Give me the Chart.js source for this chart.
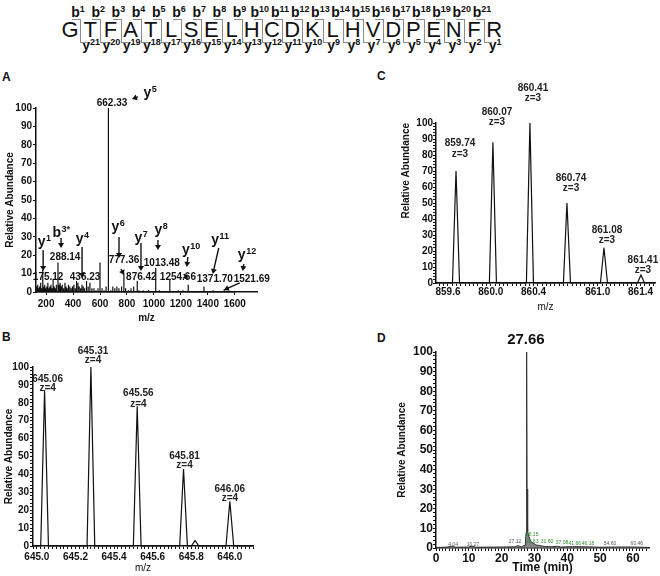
<!DOCTYPE html>
<html><head><meta charset="utf-8">
<script src="https://cdn.jsdelivr.net/npm/chart.js@4.4.0/dist/chart.umd.min.js"></script>
<style>
html,body{margin:0;padding:0;background:#fff;}
body{width:660px;height:576px;position:relative;overflow:hidden;font-family:"Liberation Sans",Arial,Helvetica,sans-serif;}
canvas{position:absolute;}
.abs{position:absolute;white-space:nowrap;}
.res{font-size:22px;line-height:22px;color:#111;transform:translateX(-50%);}
.ion{font-size:14px;font-weight:bold;line-height:14px;color:#111;transform:translateX(-50%);}
.ion sup{font-size:9px;line-height:0;position:relative;top:-5px;vertical-align:baseline;}
.ln{position:absolute;border:0 solid #8c8c8c;}
.panel{font-size:12px;font-weight:bold;line-height:12px;color:#111;}
</style></head><body>
<div id="seq"></div>
<div class="abs panel" style="left:2px;top:71px">A</div>
<div class="abs panel" style="left:2px;top:331px">B</div>
<div class="abs panel" style="left:377px;top:70px">C</div>
<div class="abs panel" style="left:377px;top:332px">D</div>
<canvas id="cA" width="330" height="270" style="left:0;top:60px"></canvas>
<canvas id="cB" width="330" height="256" style="left:0;top:320px"></canvas>
<canvas id="cC" width="330" height="260" style="left:330px;top:60px"></canvas>
<canvas id="cD" width="330" height="256" style="left:330px;top:320px"></canvas>
<script>
// ---------------- DATA ----------------
const peptide = ['G','T','F','A','T','L','S','E','L','H','C','D','K','L','H','V','D','P','E','N','F','R'];

// Panel A: MS/MS stick spectrum (m/z, relative abundance)
const msmsMz  = [130,138,145,152,160,168,175.12,182,190,198,205,213,220,228,236,244,252,260,268,276,288.14,296,304,312,320,330,340,348,356,366,376,386,396,406,416,426,436.23,446,456,466,476,486,500,512,525,540,555,570,585,600,615,630,645,662.33,680,695,710,725,740,760,777.36,790,810,830,850,876.42,890,920,960,1013.48,1040,1118,1180,1215,1254.66,1300,1371.70,1440,1521.69,1600];
const msmsInt = [3,4,2,3,5,2,12,3,4,2,3,5,2,3,4,2,7,3,2,4,16,4,5,3,4,2,5,3,2,4,3,2,3,4,2,6,5,3,2,4,3,2,6,3,5,2,2,1,2,16,2,1,3,100,1,3,2,3,2,3,10,2,1,2,3,6,1,1,1,13,1,7,1,1,4,0.5,3,1,1.5,0.5];
const aXTickLabels = [200,400,600,800,1000,1200,1400,1600];
const aYTickLabels = [0,10,20,30,40,50,60,70,80,90,100];
// annotations (data coordinates)
const aMassLabels = [['662.33',689,102.7],['288.14',341,19],['175.12',215,8.2],['436.23',489,8.2],['777.36',778,17.4],['876.42',907,8.2],['1013.48',1059,15.8],['1254.66',1178,8.2],['1371.70',1452,7.1],['1521.69',1726,7.1]];
const aIonLabels = [['y','5',970,107.1],['y','1',185,26.1],['b','3*',311,32.6],['y','4',467,27.7],['y','6',733,34.2],['y','7',904,28.3],['y','8',1052,32.6],['y','10',1274,21.7],['y','11',1489,27.2],['y','12',1689,19]];
const aArrows = [[178,22.8,178,11.4],[311,29.3,311,23.9],[467,24.5,467,7.6],[741,29.9,741,18.5],[904,26.6,904,11.4],[1030,28.3,1030,22.8],[1252,19,1244,13.6],[1481,23.9,1437,9.8],[1667,15.2,1659,11.4],[1637,4.9,1519,1.1],[756,12.5,778,9.2],[1222,9.8,1252,6.5],[881,106,837,104.9]];

// Panel B: isotope cluster z=4
const bPeakMz  = [645.04,645.28,645.52,645.76,645.82,646.00];
const bPeakInt = [87,100,78,43,3,25];
const bXTickLabels = ['645.0','645.2','645.4','645.6','645.8','646.0'];
const bPeakLabels = [['645.06',645.056,93.3,88.3],['645.31',645.291,108.9,103.9],['645.56',645.526,85.5,79.3],['645.81',645.765,50.3,45.3],['646.06',646.0,31.8,26.8]];

// Panel C: isotope cluster z=3
const cPeakMz  = [859.675,860.02,860.366,860.712,861.058,861.404];
const cPeakInt = [70,88,100,50,22,5];
const cXTickLabels = ['859.6','860.0','860.4','861.0','861.4'];
const cPeakLabels = [['859.74',859.712,87.5,80.6],['860.07',860.058,106.9,100.6],['860.41',860.394,121.9,115.6],['860.74',860.75,65.6,59.4],['861.08',861.086,33.1,26.9],['861.41',861.422,14.4,8.1]];

// Panel D: extracted ion chromatogram
const dTime  = [0,3,5,6,10,11,12,20,24,25,26,27.2,27.45,27.58,27.66,27.74,27.86,28.0,28.3,28.6,29,29.6,30.5,31.6,33,35,37,38,41.6,46.2,50,54.6,60.5,64.9];
const dAbund = [0.3,0.4,0.9,0.4,0.5,1.0,0.4,0.5,0.6,1.2,0.6,1.5,8,35,100,30,12,8,6,4.5,3,2.5,1.5,1.3,0.8,0.6,0.9,0.5,0.7,0.6,0.4,0.5,0.5,0.3];
const dXTickLabels = [0,10,20,30,40,50,60];
const dNoteText = ['4.04','10.27','27.12','28.15','28.63','31.60','37.08','41.66','46.18','54.60','60.46'];
const dNoteX    = [5.2,11.3,24.1,29.3,29.3,33.8,38.4,42.3,46.3,53.0,61.2];
const dNoteY    = [1.8,1.8,3.0,6.8,3.2,3.0,2.6,2.2,2.2,2.2,2.2];
const dApexLabel = ['27.66',27.4,106];

// ---------------- SEQUENCE (HTML text) ----------------
(function(){
  const root = document.getElementById('seq');
  const x0 = 70, dx = 20.2;
  let html = '';
  peptide.forEach((r,i)=>{ html += `<div class="abs res" style="left:${x0+i*dx}px;top:19px">${r}</div>`; });
  for (let n=1;n<=21;n++){ html += `<div class="abs ion" style="left:${x0+(n-1)*dx+8}px;top:5px">b<sup>${n}</sup></div>`; }
  for (let n=1;n<=21;n++){ html += `<div class="abs ion" style="left:${x0+(22-n)*dx+1}px;top:38px">y<sup>${n}</sup></div>`; }
  for (let k=0;k<21;k++){
    const bx = x0 + k*dx + dx/2;
    html += `<div class="ln" style="left:${bx-8}px;top:19px;width:8px;border-top-width:1px"></div>`;
    html += `<div class="ln" style="left:${bx}px;top:19px;height:23px;border-left-width:1px"></div>`;
    html += `<div class="ln" style="left:${bx}px;top:42px;width:8px;border-top-width:1px"></div>`;
  }
  root.innerHTML = html;
})();

// ---------------- HELPERS ----------------
const FF = '"Liberation Sans", Arial, Helvetica, sans-serif';
const INK = '#111';
function stickPoints(xs, hs){ const p=[]; xs.forEach((x,i)=>{p.push({x,y:0},{x,y:hs[i]},{x,y:0});}); return p; }
function peakPoints(cs, hs, hw, xmin, xmax){ const p=[{x:xmin,y:0}]; cs.forEach((c,i)=>{p.push({x:c-hw,y:0},{x:c,y:hs[i]},{x:c+hw,y:0});}); p.push({x:xmax,y:0}); return p; }
function pairs(xs, ys){ return xs.map((x,i)=>({x,y:ys[i]})); }
function grid(start, step, count){ const a=[]; for(let k=0;k<count;k++) a.push(Math.round((start+k*step)*10000)/10000); return a; }
const near = (v, list) => list.some(t => Math.abs(t - v) < 1e-6);

function axis(o){
  return {
    type:'linear', min:o.min, max:o.max,
    afterFit: s => { if (o.w!==undefined) s.width=o.w; if (o.h!==undefined) s.height=o.h; },
    afterBuildTicks: s => { s.ticks = o.ticks.map(v=>({value:v})); },
    ticks:{ autoSkip:false, maxRotation:0, minRotation:0, padding:o.pad, color:INK,
      font:{family:FF,size:o.fs,weight:'bold'}, callback:o.label },
    grid:{ drawOnChartArea:false, drawTicks:true, tickLength:o.tl, color:INK, tickColor:INK, tickWidth:1 },
    border:{ display:true, color:INK, width:1.5 },
    title:{ display:true, text:o.title, color:INK, align:o.align||'center',
      font:{family:FF,size:o.tfs,weight:o.tw||'bold'}, padding:o.tpad }
  };
}

function drawText(ctx, txt, x, y, font, color){
  ctx.font = font; ctx.fillStyle = color||INK; ctx.textAlign='center'; ctx.textBaseline='middle'; ctx.fillText(txt, x, y);
}
function drawIon(ctx, base, sup, x, y){
  const f1 = `bold 14px ${FF}`, f2 = `bold 9px ${FF}`;
  ctx.font=f1; const w1=ctx.measureText(base).width;
  ctx.font=f2; const w2=ctx.measureText(sup).width;
  const x0=x-(w1+w2)/2, bl=y+(base==='b'?5:2);
  ctx.fillStyle=INK; ctx.textAlign='left'; ctx.textBaseline='alphabetic';
  ctx.font=f1; ctx.fillText(base,x0,bl);
  ctx.font=f2; ctx.fillText(sup,x0+w1+0.5,bl-5);
}
function drawArrow(ctx,x1,y1,x2,y2){
  const a=Math.atan2(y2-y1,x2-x1), hl=5, hw=3, c=Math.cos(a), s=Math.sin(a);
  ctx.strokeStyle=INK; ctx.fillStyle=INK; ctx.lineWidth=1.4;
  ctx.beginPath(); ctx.moveTo(x1,y1); ctx.lineTo(x2-hl*0.8*c, y2-hl*0.8*s); ctx.stroke();
  ctx.beginPath(); ctx.moveTo(x2,y2);
  ctx.lineTo(x2-hl*c+hw*s, y2-hl*s-hw*c); ctx.lineTo(x2-hl*c-hw*s, y2-hl*s+hw*c); ctx.closePath(); ctx.fill();
}

const ANNOT = {
  cA(ctx,X,Y){
    aArrows.forEach(([x1,y1,x2,y2])=>drawArrow(ctx,X(x1),Y(y1),X(x2),Y(y2)));
    aMassLabels.forEach(([t,x,y])=>drawText(ctx,t,X(x),Y(y),`bold 10px ${FF}`));
    aIonLabels.forEach(([b,s,x,y])=>drawIon(ctx,b,s,X(x),Y(y)));
  },
  cB(ctx,X,Y){
    bPeakLabels.forEach(([t,x,y1,y2])=>{ drawText(ctx,t,X(x),Y(y1),`bold 10px ${FF}`,'#222'); drawText(ctx,'z=4',X(x),Y(y2),`bold 10px ${FF}`,'#222'); });
  },
  cC(ctx,X,Y){
    cPeakLabels.forEach(([t,x,y1,y2])=>{ drawText(ctx,t,X(x),Y(y1),`bold 10px ${FF}`,'#222'); drawText(ctx,'z=3',X(x),Y(y2),`bold 10px ${FF}`,'#222'); });
  },
  cD(ctx,X,Y){
    dNoteText.forEach((t,i)=>drawText(ctx,t,X(dNoteX[i]),Y(dNoteY[i]),`5px ${FF}`, (dNoteX[i]>27 && dNoteX[i]<48)?'#2f8f2f':'#555'));
    drawText(ctx,dApexLabel[0],X(dApexLabel[1]),Y(dApexLabel[2]),`bold 15px ${FF}`);
  }
};
const annotPlugin = {
  id:'annot',
  afterDatasetsDraw(chart){
    const f = ANNOT[chart.canvas.id]; if(!f) return;
    const xs=chart.scales.x, ys=chart.scales.y, ctx=chart.ctx;
    ctx.save(); f(ctx, v=>xs.getPixelForValue(v), v=>ys.getPixelForValue(v)); ctx.restore();
  }
};
const base = (pad) => ({
  responsive:false, animation:false, events:[], devicePixelRatio:1,
  layout:{padding:pad},
  plugins:{legend:{display:false}, tooltip:{enabled:false}},
});

// ---------------- PANEL A ----------------
new Chart(document.getElementById('cA'), {
  type:'line',
  data:{datasets:[{data:stickPoints(msmsMz,msmsInt), borderColor:INK, borderWidth:1.2, pointRadius:0, tension:0, clip:false}]},
  options:Object.assign(base({left:0,top:48,right:73,bottom:0}),{
    scales:{
      x: axis({min:125,max:1765,h:38,ticks:aXTickLabels,label:v=>String(v),pad:3,fs:10,tl:3,title:'m/z',tfs:10,tpad:{top:0,bottom:6}}),
      y: axis({min:0,max:100,w:36,ticks:aYTickLabels,label:v=>String(v),pad:1,fs:10,tl:3,title:'Relative Abundance',tfs:10,tpad:{top:4,bottom:0}})
    }
  }),
  plugins:[annotPlugin]
});

// ---------------- PANEL B ----------------
const bMajor = bXTickLabels.map(Number);
new Chart(document.getElementById('cB'), {
  type:'line',
  data:{datasets:[{data:peakPoints(bPeakMz,bPeakInt,0.02,644.98,646.12), borderColor:INK, borderWidth:1.2, pointRadius:0, tension:0, clip:false}]},
  options:Object.assign(base({left:0,top:47,right:77,bottom:0}),{
    scales:{
      x: axis({min:644.98,max:646.12,h:30,ticks:grid(644.98,0.02,58),label:v=>near(v,bMajor)?v.toFixed(1):'',pad:2,fs:10,tl:3,title:'m/z',tfs:10,tw:'normal',tpad:{top:0,bottom:2}}),
      y: axis({min:0,max:100,w:33,ticks:grid(0,2,51),label:v=>v%10===0?String(v):'',pad:1,fs:10,tl:3,title:'Relative Abundance',tfs:10,tpad:{top:3,bottom:0}})
    }
  }),
  plugins:[annotPlugin]
});

// ---------------- PANEL C ----------------
const cMajor = cXTickLabels.map(Number);
new Chart(document.getElementById('cC'), {
  type:'line',
  data:{datasets:[{data:peakPoints(cPeakMz,cPeakInt,0.033,859.488,861.535), borderColor:INK, borderWidth:1.2, pointRadius:0, tension:0, clip:false}]},
  options:Object.assign(base({left:60,top:63,right:5,bottom:0}),{
    scales:{
      x: axis({min:859.488,max:861.535,h:37,ticks:grid(859.52,0.04,51),label:v=>near(v,cMajor)?v.toFixed(1):'',pad:0,fs:10,tl:3,title:'m/z',tfs:10,tw:'normal',tpad:{top:0,bottom:7}}),
      y: axis({min:0,max:100,w:46,ticks:grid(0,2,51),label:v=>v%10===0?String(v):'',pad:0,fs:10,tl:3,title:'Relative Abundance',tfs:10,align:'end',tpad:{top:10,bottom:0}})
    }
  }),
  plugins:[annotPlugin]
});

// ---------------- PANEL D ----------------
new Chart(document.getElementById('cD'), {
  type:'line',
  data:{datasets:[{data:pairs(dTime,dAbund), borderColor:'#333', borderWidth:1, backgroundColor:'rgba(110,110,110,0.85)', fill:'origin', pointRadius:0, tension:0, clip:false}]},
  options:Object.assign(base({left:60,top:32,right:11,bottom:0}),{
    scales:{
      x: axis({min:0,max:64.9,h:28,ticks:grid(0,1,65),label:v=>near(v,dXTickLabels)?String(v):'',pad:0,fs:12,tl:3,title:'Time (min)',tfs:12,tpad:{top:0,bottom:1}}),
      y: axis({min:0,max:100,w:46,ticks:grid(0,2,51),label:v=>v%10===0?String(v):'',pad:0,fs:12,tl:3,title:'Relative Abundance',tfs:10,tpad:{top:6,bottom:0}})
    }
  }),
  plugins:[annotPlugin]
});
</script>
</body></html>
